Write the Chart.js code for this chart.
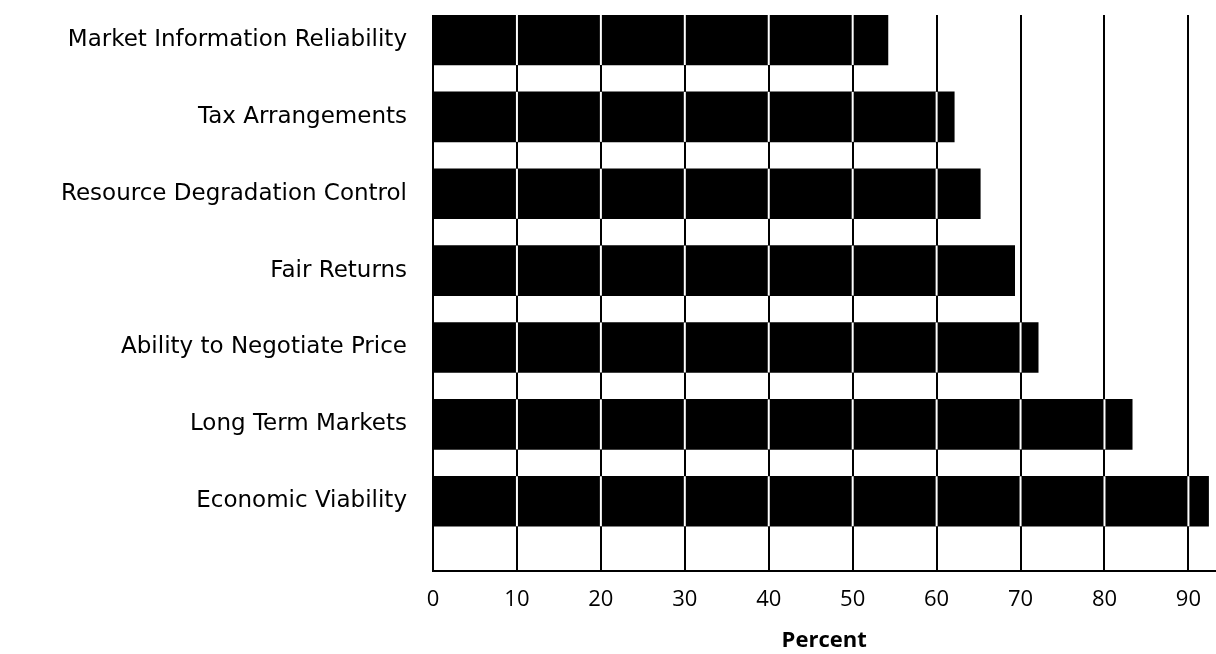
<!DOCTYPE html>
<html>
<head>
<meta charset="utf-8">
<script src="https://cdn.jsdelivr.net/npm/chart.js@4"></script>
<style>
  html, body { margin: 0; padding: 0; background: #fff; }
  #chart { display: block; }
</style>
</head>
<body>
<canvas id="chart" width="1216" height="654"></canvas>
<script>
// data
const categories = [
    "Market Information Reliability",
    "Tax Arrangements",
    "Resource Degradation Control",
    "Fair Returns",
    "Ability to Negotiate Price",
    "Long Term Markets",
    "Economic Viability"
];
const percentValues = [54.2, 62.1, 65.2, 69.3, 72.1, 83.3, 92.4];
const xTickValues = [0, 10, 20, 30, 40, 50, 60, 70, 80, 90];

document.addEventListener("DOMContentLoaded", function() {
    const ctx = document.getElementById("chart").getContext("2d");

    // white grid lines cut through the black bars, as in the printed figure
    const barGridPlugin = {
        id: "barGrid",
        afterDatasetsDraw(chart) {
            const xScale = chart.scales.x;
            const meta = chart.getDatasetMeta(0);
            const c = chart.ctx;
            c.save();
            c.strokeStyle = "#ffffff";
            c.lineWidth = 2;
            meta.data.forEach(function(bar) {
                const p = bar.getProps(["x", "y", "height"], true);
                xScale.ticks.forEach(function(t) {
                    const px = xScale.getPixelForValue(t.value);
                    if (t.value > 0 && px < p.x - 2) {
                        c.beginPath();
                        c.moveTo(px, p.y - p.height / 2);
                        c.lineTo(px, p.y + p.height / 2);
                        c.stroke();
                    }
                });
            });
            c.restore();
        }
    };

    new Chart(ctx, {
        type: "bar",
        data: {
            datasets: [{
                label: "Percent",
                data: categories.map(function(name, i) {
                    return { x: percentValues[i], y: i };
                }),
                backgroundColor: "#000000",
                borderWidth: 0,
                barThickness: 50
            }]
        },
        plugins: [barGridPlugin],
        options: {
            indexAxis: "y",
            responsive: false,
            animation: false,
            devicePixelRatio: 1,
            layout: { padding: { top: 15, right: 0, bottom: 0, left: 0 } },
            plugins: {
                legend: { display: false },
                tooltip: { enabled: false }
            },
            scales: {
                x: {
                    type: "linear",
                    min: 0,
                    max: 93.2,
                    afterBuildTicks: function(scale) {
                        scale.ticks = xTickValues.map(function(v) { return { value: v }; });
                    },
                    grid: {
                        color: "#000000",
                        lineWidth: 2,
                        drawTicks: false
                    },
                    border: { display: true, color: "#000000", width: 2 },
                    ticks: {
                        color: "#000000",
                        padding: 15,
                        font: { family: "'Open Sans', sans-serif", size: 22 }
                    },
                    title: {
                        display: true,
                        text: "Percent",
                        color: "#000000",
                        padding: { top: 0, bottom: 0 },
                        font: { family: "'Open Sans', sans-serif", size: 22, weight: "bold" }
                    }
                },
                y: {
                    type: "linear",
                    reverse: true,
                    offset: false,
                    min: -0.325,
                    max: 6.91,
                    afterBuildTicks: function(scale) {
                        scale.ticks = categories.map(function(name, i) { return { value: i }; });
                    },
                    afterFit: function(scale) {
                        scale.width = 433;
                        scale.paddingTop = 0;
                        scale.paddingBottom = 0;
                    },
                    grid: { display: false },
                    border: { display: false },
                    ticks: {
                        color: "#000000",
                        padding: 18,
                        font: { family: "'DejaVu Sans', sans-serif", size: 23 },
                        callback: function(value) {
                            return categories[value] || "";
                        }
                    }
                }
            }
        }
    });
});
</script>
</body>
</html>
